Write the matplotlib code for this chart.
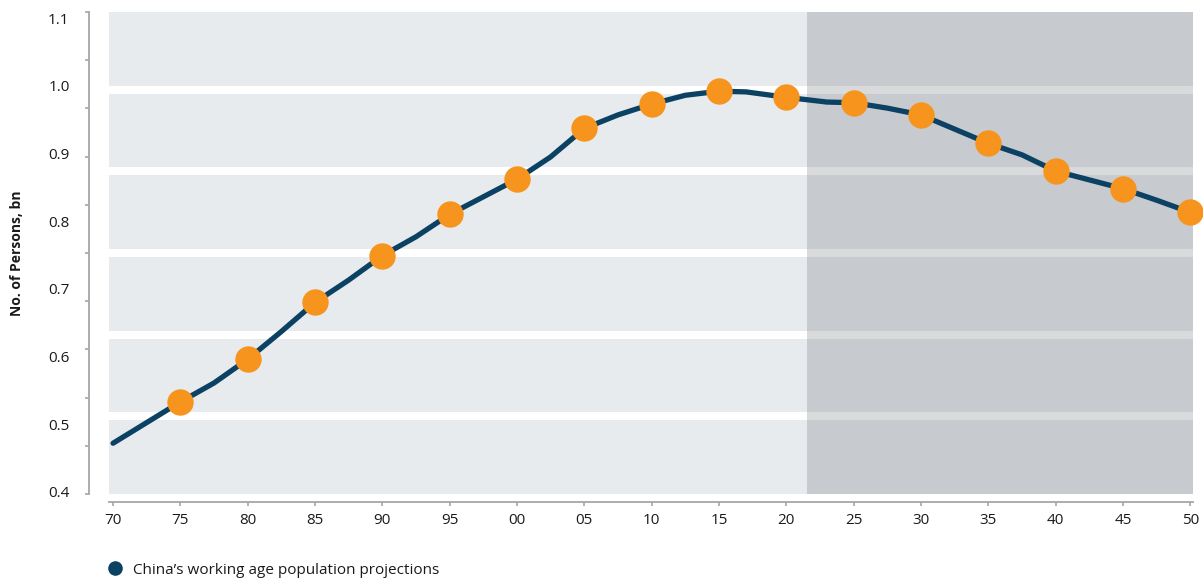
import numpy as np
import matplotlib
matplotlib.use("Agg")
import matplotlib.pyplot as plt
from matplotlib.lines import Line2D
from matplotlib.patches import Rectangle
from matplotlib.transforms import blended_transform_factory

plt.rcParams['font.family'] = ['Open Sans', 'DejaVu Sans']

# working age population, bn (actuals to ~2021, projections after)
years = [1970, 1975, 1977.5, 1980, 1982.5, 1985, 1987.5, 1990, 1992.5, 1995,
         1997.5, 2000, 2002.5, 2005, 2007.5, 2010, 2012.5, 2015, 2017,
         2020, 2023, 2025, 2027.5, 2030, 2035, 2037.5, 2040, 2042.5,
         2045, 2047.5, 2050]
pop = [0.472, 0.533, 0.561, 0.596, 0.637, 0.680, 0.713, 0.749, 0.777, 0.810,
       0.836, 0.862, 0.895, 0.937, 0.957, 0.973, 0.986, 0.992, 0.991,
       0.983, 0.976, 0.975, 0.967, 0.957, 0.915, 0.898, 0.874, 0.861,
       0.848, 0.831, 0.813]

tick_years = list(range(1970, 2051, 5))
tick_labels = [str(y)[-2:] for y in tick_years]
y_ticks = [0.4, 0.5, 0.6, 0.7, 0.8, 0.9, 1.0, 1.1]
projection_start = 2021.5

navy = '#0b4163'
orange = '#f7941e'
light_band = '#e8ebee'
dark_band = '#c7cacf'
dark_gap = '#d9dadc'
axis_grey = '#a6a6a6'

W, H = 1203, 583
fig = plt.figure(figsize=(W / 100, H / 100), dpi=100)
ax = fig.add_axes([109 / W, 1 - 494 / H, (1193 - 109) / W, (494 - 12) / H])
ax.set_xlim(1969.7, 2050.2)
ax.set_ylim(0.397, 1.109)

# horizontal background bands with gaps between them
n_bands = 6
gap = 8 / 482
band_h = (1 - (n_bands - 1) * gap) / n_bands
trans = blended_transform_factory(ax.transData, ax.transAxes)
x0, x1 = ax.get_xlim()
ax.add_patch(Rectangle((projection_start, 0), x1 - projection_start, 1,
                       transform=trans, color=dark_gap, lw=0, zorder=0))
for i in range(n_bands):
    yb = i * (band_h + gap)
    ax.add_patch(Rectangle((x0, yb), projection_start - x0, band_h,
                           transform=trans, color=light_band, lw=0, zorder=0))
    ax.add_patch(Rectangle((projection_start, yb), x1 - projection_start, band_h,
                           transform=trans, color=dark_band, lw=0, zorder=0))

ax.plot(years, pop, color=navy, lw=3.8, solid_capstyle='round',
        solid_joinstyle='round', zorder=2, clip_on=False)
mk = [(y, p) for y, p in zip(years, pop) if y % 5 == 0 and y > 1970]
ax.plot([m[0] for m in mk], [m[1] for m in mk], ls='', marker='o',
        markersize=19, color=orange, markeredgewidth=0, zorder=3, clip_on=False)

for s in ['top', 'right']:
    ax.spines[s].set_visible(False)
ax.spines['left'].set_position(('outward', 14.4))
ax.spines['bottom'].set_position(('outward', 5.8))
for s in ['left', 'bottom']:
    ax.spines[s].set_color(axis_grey)
    ax.spines[s].set_linewidth(1.3)

ax.set_xticks(tick_years)
ax.set_xticklabels(tick_labels)
ax.tick_params(axis='x', length=3, width=1.2, color=axis_grey, pad=5,
               labelsize=11, labelcolor='#1a1a1a')

ax.set_yticks(y_ticks)
ax.set_yticklabels([f'{v:.1f}' for v in y_ticks])
ax.tick_params(axis='y', which='major', length=0, pad=14, labelsize=11,
               labelcolor='#1a1a1a')
ax.set_yticks(np.linspace(0.397, 1.109, 11), minor=True)
ax.tick_params(axis='y', which='minor', length=3, width=1.2, color=axis_grey)

fig.text(17 / W, 1 - 253 / H, 'No. of Persons, bn', rotation=90,
         ha='center', va='center', fontsize=10, fontweight='bold',
         color='#1a1a1a')

handle = Line2D([], [], ls='', marker='o', markersize=10.5, color=navy,
                markeredgewidth=0)
fig.legend([handle], ["China\u2019s working age population projections"],
           loc='center left', bbox_to_anchor=(107.5 / W, 1 - 570 / H),
           frameon=False, handletextpad=0.65, borderaxespad=0, borderpad=0,
           handlelength=1.0, fontsize=11, labelcolor='#1a1a1a')

fig.savefig('out.png', dpi=100)
